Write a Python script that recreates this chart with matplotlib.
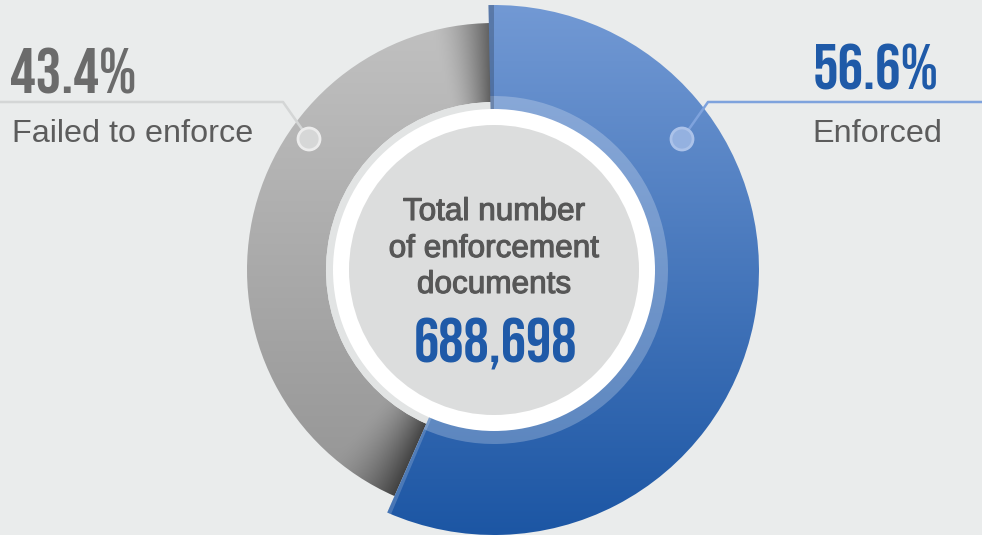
import matplotlib.pyplot as plt
import matplotlib.patheffects as pe
import numpy as np
from matplotlib.patches import Wedge, Circle
from matplotlib.colors import to_rgb

# data
labels = ["Enforced", "Failed to enforce"]
shares = [56.6, 43.4]
share_text = ["56.6%", "43.4%"]
center_lines = ["Total number", "of enforcement", "documents"]
total_text = "688,698"

W, H = 982, 535
BG = "#eaecec"
cx, cy = 494, H - 270          # donut centre, y pointing up

fig = plt.figure(figsize=(W / 100, H / 100), dpi=100, facecolor=BG)
ax = fig.add_axes([0, 0, 1, 1])
ax.set_facecolor(BG)


def py(y):
    # pixel row (from top) -> axes y
    return H - y


# angles: blue goes clockwise from 12 o'clock, grey fills the rest
blue_deg = 360 * shares[0] / sum(shares)
b_start = 90 - blue_deg
g_start, g_end = 90, 90 + 360 * shares[1] / sum(shares)

# ---- grey segment with angular shading ----
rg_out, rg_in = 247, 168
n = 2 * rg_out
xs = np.linspace(cx - rg_out, cx + rg_out, n)
ys = np.linspace(cy - rg_out, cy + rg_out, n)
xx, yy = np.meshgrid(xs, ys)
ang = np.degrees(np.arctan2(yy - cy, xx - cx)) % 360
light = 0.665 + 0.09 * (yy - cy) / rg_out
d1 = np.clip(ang - g_start, 0, None)
d2 = np.clip(g_end - ang, 0, None)
ramp = np.maximum(np.clip(1 - d1 / 15, 0, 1) ** 1.7, np.clip(1 - d2 / 17, 0, 1) ** 1.7)
light = light * (1 - 0.56 * ramp)
grey_img = np.dstack([light, light, light])
gw = Wedge((cx, cy), rg_out, g_start, g_end, width=rg_out - rg_in, facecolor="none", edgecolor="none")
ax.add_patch(gw)
im = ax.imshow(grey_img, origin="lower", extent=[xs[0], xs[-1], ys[0], ys[-1]], interpolation="bilinear", zorder=1)
im.set_clip_path(gw)
ax.add_patch(Wedge((cx, cy), rg_in, g_start, g_end, width=8, facecolor="#e2e4e4", edgecolor="none", zorder=2))

# ---- blue segment with vertical gradient ----
rb_out, rb_in = 265, 160
top_c, bot_c = np.array(to_rgb("#7299d4")), np.array(to_rgb("#1c56a4"))
ys2 = np.linspace(cy - rb_out, cy + rb_out, 2 * rb_out)
t = (ys2 - ys2[0]) / (ys2[-1] - ys2[0])
col = bot_c[None, :] * (1 - t[:, None]) + top_c[None, :] * t[:, None]
blue_img = np.repeat(col[:, None, :], 2 * rb_out, axis=1)
bw = Wedge((cx, cy), rb_out, b_start, 91.2, width=rb_out - rb_in, facecolor="none", edgecolor="none")
ax.add_patch(bw)
im2 = ax.imshow(blue_img, origin="lower", extent=[cx - rb_out, cx + rb_out, cy - rb_out, cy + rb_out],
                interpolation="bilinear", zorder=3)
im2.set_clip_path(bw)
# bevels
ax.add_patch(Wedge((cx, cy), rb_in + 14, b_start, 91.2, width=14, facecolor="white", alpha=0.24,
                   edgecolor="none", zorder=4))
ax.add_patch(Wedge((cx, cy), rb_out, 90, 91.2, width=rb_out - rb_in, facecolor="black", alpha=0.2,
                   edgecolor="none", zorder=4))
ax.add_patch(Wedge((cx, cy), rb_out, b_start, b_start + 0.9, width=rb_out - rb_in, facecolor="white",
                   alpha=0.18, edgecolor="none", zorder=4))

# ---- centre ----
ax.add_patch(Circle((cx, cy), 161, facecolor="white", edgecolor="none", zorder=5))
ax.add_patch(Circle((cx, cy), 145, facecolor="#dcdddd", edgecolor="none", zorder=6))

mid_font = ["Liberation Sans", "DejaVu Sans"]
big_font = ["Bebas Neue", "Oswald", "DejaVu Sans"]
for line, yb in zip(center_lines, [220, 257, 293]):
    ax.text(cx, py(yb), line, ha="center", va="baseline", fontsize=22.7, color="#575757",
            family=mid_font, zorder=7,
            path_effects=[pe.withStroke(linewidth=0.8, foreground="#575757")])
ax.text(cx + 2, py(363), total_text, ha="center", va="baseline", fontsize=45.5,
        color="#1f5aa8", family=big_font, zorder=7)

# ---- callouts ----
ax.plot([0, 283, 309], [py(102), py(102), py(139)], color="#d4d6d6", lw=1.8, zorder=8,
        solid_capstyle="round")
ax.add_patch(Circle((309, py(139)), 11, facecolor="#d6d7d7", edgecolor="#ececec", lw=2, zorder=9))
ax.plot([682, 708, W], [py(139), py(102), py(102)], color="#7fa3dd", lw=1.8, zorder=8,
        solid_capstyle="round")
ax.add_patch(Circle((682, py(139)), 11, facecolor="#94b1e0", edgecolor="#abc2e9", lw=2, zorder=9))

ax.text(10, py(94), share_text[1], ha="left", va="baseline", fontsize=46,
        color="#6b6b6b", family=big_font, zorder=9)
ax.text(12, py(142), labels[1], ha="left", va="baseline", fontsize=23.3, color="#5c5c5c",
        family=mid_font, zorder=9)
ax.text(813, py(89), share_text[0], ha="left", va="baseline", fontsize=46,
        color="#1f5aa8", family=big_font, zorder=9)
ax.text(812, py(142), labels[0], ha="left", va="baseline", fontsize=23.3, color="#5c5c5c",
        family=mid_font, zorder=9)

ax.set_xlim(0, W)
ax.set_ylim(0, H)
ax.set_aspect("auto")
ax.axis("off")

fig.savefig("out.png", dpi=100, facecolor=BG)
